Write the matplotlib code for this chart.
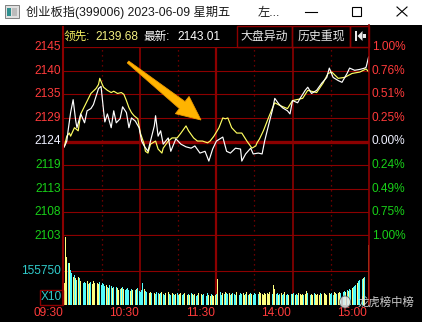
import numpy as np
import matplotlib
matplotlib.use('Agg')
import matplotlib.pyplot as plt
from matplotlib.patches import Rectangle, Polygon, Ellipse
from matplotlib import transforms

plt.rcParams['font.family'] = ['Liberation Sans', 'Noto Sans CJK SC', 'DejaVu Sans']

# ---- data ----
prev_close = 2124.0
price_labels = ['2145', '2140', '2135', '2129', '2124', '2119', '2113', '2108', '2103']
pct_labels = ['1.00%', '0.76%', '0.51%', '0.25%', '0.00%', '0.24%', '0.49%', '0.75%', '1.00%']
time_ticks = [0, 60, 120, 180, 240]
time_labels = ['09:30', '10:30', '11:30', '14:00', '15:00']

# index (white line), minutes from 09:30
index_t = [0, 2, 3, 5, 7, 9, 10, 13, 16, 18, 21, 23, 27, 29, 31, 32, 34, 37, 39, 41,
           44, 46, 49, 51, 53, 56, 59, 61, 63, 66, 68, 71, 72, 74, 76, 78, 82, 84, 88, 92,
           96, 100, 103, 107, 111, 114, 117, 120, 125, 128, 131, 135, 139, 140, 143, 147,
           149, 153, 156, 158, 162, 164, 166, 169, 172, 176, 178, 180, 184, 186, 190, 192,
           195, 199, 203, 207, 209, 212, 216, 219, 223, 225, 229, 233, 237, 238, 240]
index_p = [2122.8, 2124.1, 2126.4, 2130.5, 2133.4, 2128.7, 2127.1, 2130.2, 2128.2, 2130.9,
           2131.4, 2132.3, 2135.9, 2136.4, 2130.9, 2128.4, 2130.2, 2127.1, 2130.9, 2128.2,
           2129.1, 2131.8, 2130.5, 2127.1, 2129.3, 2128.6, 2127.1, 2124.1, 2123.0, 2121.8,
           2124.1, 2127.5, 2129.8, 2125.2, 2126.4, 2123.4, 2124.8, 2121.8, 2124.6, 2123.4,
           2122.8, 2122.5, 2123.0, 2121.4, 2121.8, 2119.6, 2122.3, 2124.1, 2125.0, 2121.8,
           2121.4, 2122.5, 2122.3, 2119.6, 2121.2, 2122.5, 2121.2, 2121.4, 2121.2, 2124.1,
           2128.7, 2130.9, 2133.7, 2132.5, 2131.6, 2130.9, 2130.2, 2133.2, 2132.7, 2133.7,
           2135.5, 2136.2, 2134.8, 2135.5, 2137.1, 2138.4, 2140.5, 2138.4, 2137.7, 2137.3,
           2139.3, 2140.5, 2140.0, 2140.2, 2140.5, 2140.7, 2143.01]

# leading index (yellow line)
lead_t = [0, 2, 4, 5, 8, 11, 13, 17, 21, 25, 27, 28, 30, 31, 34, 37, 39, 42, 45, 47,
          49, 51, 53, 55, 58, 60, 63, 64, 66, 68, 72, 74, 77, 78, 82, 85, 89, 92, 96, 98,
          102, 105, 109, 113, 115, 118, 122, 125, 127, 129, 132, 136, 140, 144, 148, 151,
          152, 154, 157, 161, 164, 166, 170, 176, 180, 188, 192, 199, 204, 208, 211, 216,
          221, 227, 233, 238, 240]
lead_p = [2122.8, 2125.2, 2125.9, 2125.2, 2127.1, 2126.4, 2130.2, 2132.5, 2134.8, 2135.9,
          2136.8, 2138.2, 2136.8, 2136.2, 2135.5, 2135.0, 2135.3, 2134.8, 2135.0, 2134.6,
          2133.2, 2131.6, 2130.5, 2129.8, 2129.1, 2125.9, 2123.4, 2121.8, 2121.4, 2123.4,
          2124.1, 2122.3, 2121.4, 2122.5, 2124.1, 2124.8, 2124.8, 2125.9, 2127.5, 2126.4,
          2124.8, 2124.1, 2124.1, 2123.7, 2124.1, 2125.2, 2127.1, 2129.3, 2129.1, 2129.3,
          2127.1, 2125.9, 2125.9, 2124.1, 2122.5, 2123.0, 2123.7, 2124.6, 2126.4, 2129.3,
          2131.4, 2132.7, 2132.1, 2131.4, 2133.2, 2133.7, 2135.5, 2135.0, 2137.1, 2139.3,
          2139.6, 2138.2, 2138.4, 2139.3, 2139.6, 2140.3, 2139.68]

# minute volume (thousands, x10 units), one per minute 09:30..15:00
volume = [99, 307, 217, 190, 190, 158, 144, 126, 135, 122,
          113, 126, 122, 108, 104, 99, 104, 99, 108, 95,
          99, 104, 95, 108, 99, 113, 99, 95, 104, 90,
          99, 95, 86, 90, 81, 77, 90, 86, 77, 81,
          72, 81, 77, 68, 72, 77, 81, 72, 68, 72,
          77, 68, 63, 72, 68, 63, 68, 72, 77, 63,
          59, 68, 99, 72, 63, 59, 63, 54, 59, 54,
          59, 54, 50, 59, 54, 50, 54, 59, 50, 45,
          54, 50, 59, 50, 45, 54, 50, 45, 50, 54,
          45, 50, 54, 45, 50, 54, 63, 45, 50, 45,
          54, 50, 45, 50, 41, 45, 54, 45, 50, 45,
          50, 45, 41, 54, 45, 41, 50, 45, 41, 45,
          50, 117, 54, 59, 45, 54, 50, 59, 54, 50,
          54, 45, 50, 54, 50, 45, 59, 50, 45, 54,
          50, 54, 45, 50, 59, 45, 50, 54, 50, 45,
          54, 50, 54, 50, 59, 54, 50, 45, 54, 50,
          54, 50, 59, 45, 50, 90, 72, 50, 54, 45,
          50, 54, 45, 50, 59, 45, 50, 45, 54, 50,
          50, 54, 45, 50, 45, 54, 50, 45, 50, 45,
          50, 63, 54, 50, 45, 50, 45, 54, 50, 45,
          50, 45, 54, 50, 45, 54, 50, 45, 50, 54,
          50, 54, 45, 59, 54, 50, 54, 59, 54, 63,
          59, 63, 59, 68, 63, 72, 68, 77, 81, 86,
          90, 99, 108, 113, 122, 117, 122, 126, 0, 0,
          271]
# y = up minute (yellow bar), c = down minute (cyan bar)
vol_dir = ('yyycyccycy' 'cycyycccyc' 'ycyyycyycc' 'cccycyccyc' 'ycyycycycc' 'ccycyccycc'
           'cccyccyyyc' 'yycccycycc' 'ycyccyccyc' 'cyyccycycy' 'cycyccycyc' 'cyccyycyyy'
           'cycccycycc' 'ycycccyccc' 'cyycycycyc' 'ccycyyyyyy' 'yyyycyyccy' 'cyccyccyyc'
           'ycyccyyyyc' 'yycccyycyy' 'yycyyyyycy' 'cccyycyycy' 'ccycyccycc' 'cyccycyccc'
           'y')

RED_GRID = '#8c0000'
RED_TXT = '#ff3b3b'
GREEN_TXT = '#18d018'
CYAN_TXT = '#30cccc'
BAR_YEL = '#ffff80'
BAR_CYAN = '#54fcfc'

W, H = 422, 322
fig = plt.figure(figsize=(W / 100, H / 100), dpi=100, facecolor='black')

def box(x0, y0, x1, y1):
    return [x0 / W, 1 - y1 / H, (x1 - x0) / W, (y1 - y0) / H]

ax = fig.add_axes(box(63, 47, 369, 236))
axv = fig.add_axes(box(63, 236, 369, 305))
for a in (ax, axv):
    a.set_facecolor('none')
    a.set_xlim(-1, 240.3)
    a.set_xticks([])
    a.set_yticks([])
    for s in a.spines.values():
        s.set_visible(False)

lo, hi = prev_close * 0.99, prev_close * 1.01
ax.set_ylim(lo, hi)
levels = [prev_close * (1 + k * 0.0025) for k in range(4, -5, -1)]

# grid
for i, lv in enumerate(levels):
    lw = 0.8
    if i == 4:
        lw = 2.4
    elif i in (0, 8):
        lw = 1.6
    ax.axhline(lv, color=RED_GRID, lw=lw, zorder=1)
for a in (ax, axv):
    for m in (60, 120, 180):
        a.axvline(m, color=RED_GRID, lw=1.6 if m == 120 else 1.2, zorder=1)
    for m in (30, 90, 150, 210):
        a.axvline(m, color=RED_GRID, lw=0.9, ls=(0, (1, 3)), zorder=1)

# price lines
ax.plot(lead_t, lead_p, color='#ffff60', lw=0.85, zorder=3)
ax.plot(index_t, index_p, color='white', lw=0.85, zorder=4)

# labels left / right
for i, (lv, pl, pc) in enumerate(zip(levels, price_labels, pct_labels)):
    if i < 4:
        c = RED_TXT
    elif i == 4:
        c = '#eef0ff'
    else:
        c = GREEN_TXT
    ax.text(-0.006, lv, pl, transform=ax.get_yaxis_transform(), ha='right', va='center',
            color=c, fontsize=8.6)
    ax.text(1.009, lv, pc, transform=ax.get_yaxis_transform(), ha='left', va='center',
            color=c, fontsize=8.6)

# volume
vmax = 311.5
axv.set_ylim(0, vmax)
axv.axhline(vmax / 2, color=RED_GRID, lw=0.8, zorder=1)
bar_cols = [BAR_YEL if d == 'y' else BAR_CYAN for d in vol_dir]
axv.bar(range(len(volume)), volume, width=0.72, color=bar_cols, linewidth=0, zorder=2)
axv.text(-0.006, vmax / 2, '155750', transform=axv.get_yaxis_transform(), ha='right',
         va='center', color=CYAN_TXT, fontsize=8.6)

off = transforms.offset_copy(axv.get_xaxis_transform(), fig=fig, x=-1.5, y=-8, units='dots')
for m, lab in zip(time_ticks, time_labels):
    axv.text(m, 0, lab, transform=off, ha='right', va='center', color=RED_TXT, fontsize=8.6)

# ---- overlay: window chrome, header, frame, arrow, watermark ----
ov = fig.add_axes([0, 0, 1, 1], zorder=5)
ov.set_xlim(0, W)
ov.set_ylim(H, 0)
ov.axis('off')
ov.set_facecolor('none')

ov.add_patch(Rectangle((0, 0), W, 25, facecolor='white', edgecolor='none'))
ov.add_patch(Rectangle((5, 5), 14, 13, facecolor='#e0e0e0', edgecolor='#808080', lw=0.7))
ov.add_patch(Rectangle((7, 8), 4, 8, facecolor='#2f8f8f', edgecolor='none'))
ov.add_patch(Rectangle((12, 8), 5, 8, facecolor='#bcbcbc', edgecolor='none'))
ov.text(26, 12.5, '创业板指(399006) 2023-06-09 星期五', color='#1a1a1a', fontsize=8.8,
        va='center', ha='left')
ov.text(258, 12.5, '左...', color='#1a1a1a', fontsize=8.8, va='center', ha='left')
ov.plot([305, 317], [11.5, 11.5], color='black', lw=0.8)
ov.add_patch(Rectangle((352, 7), 9, 9, facecolor='none', edgecolor='black', lw=0.8))
ov.plot([397, 407], [7, 16], color='black', lw=0.8)
ov.plot([397, 407], [16, 7], color='black', lw=0.8)

# header strip
ov.text(64, 36.5, '领先:', color='#f4f060', fontsize=8.4, va='center', ha='left')
ov.text(95, 36.5, '2139.68', color='#f4f080', fontsize=8.6, va='center', ha='left')
ov.text(143, 36.5, '最新:', color='white', fontsize=8.4, va='center', ha='left')
ov.text(177, 36.5, '2143.01', color='white', fontsize=8.6, va='center', ha='left')
for x0, x1 in ((237, 292), (292, 350), (350, 369)):
    ov.add_patch(Rectangle((x0, 26), x1 - x0, 21, facecolor='none', edgecolor=RED_GRID, lw=1))
ov.text(264.5, 36.5, '大盘异动', color='#e6e6e6', fontsize=8.6, va='center', ha='center')
ov.text(321, 36.5, '历史重现', color='#e6e6e6', fontsize=8.6, va='center', ha='center')
ov.add_patch(Rectangle((355, 31), 1.8, 10, facecolor='#e8e8e8', edgecolor='none'))
ov.add_patch(Polygon([(357.5, 36), (362.5, 31), (362.5, 41)], facecolor='#e8e8e8', edgecolor='none'))
ov.add_patch(Rectangle((362.5, 34), 3.5, 4, facecolor='#e8e8e8', edgecolor='none'))

# frame
ov.plot([63, 63], [27, 305], color=RED_GRID, lw=1.5)
ov.plot([369, 369], [25, 305], color=RED_GRID, lw=1.2)
ov.add_patch(Rectangle((40, 290), 23, 15, facecolor='none', edgecolor=RED_GRID, lw=1))
ov.text(51.5, 297.5, 'X10', color=CYAN_TXT, fontsize=8.6, va='center', ha='center')

# orange arrow annotation
tail = np.array([128.0, 62.0])
tip = np.array([201.0, 120.0])
u = (tip - tail) / np.hypot(*(tip - tail))
n = np.array([-u[1], u[0]])
neck = tip - u * 24
pts = [tail + n * 1.2, neck + n * 4.5, neck + n * 11, tip,
       neck - n * 11, neck - n * 4.5, tail - n * 1.2]
ov.add_patch(Polygon(pts, closed=True, facecolor='#ffb400', edgecolor='#f09a00', lw=0.6))

# watermark
ov.add_patch(Ellipse((345, 302), 11, 12, facecolor='#e8e8e8', edgecolor='#555555', lw=0.6, alpha=0.85))
ov.text(358, 302, '龙虎榜中榜', color='#e0e0e0', fontsize=8.2, va='center', ha='left', alpha=0.9)

fig.savefig('out.png', dpi=100, facecolor='black')
